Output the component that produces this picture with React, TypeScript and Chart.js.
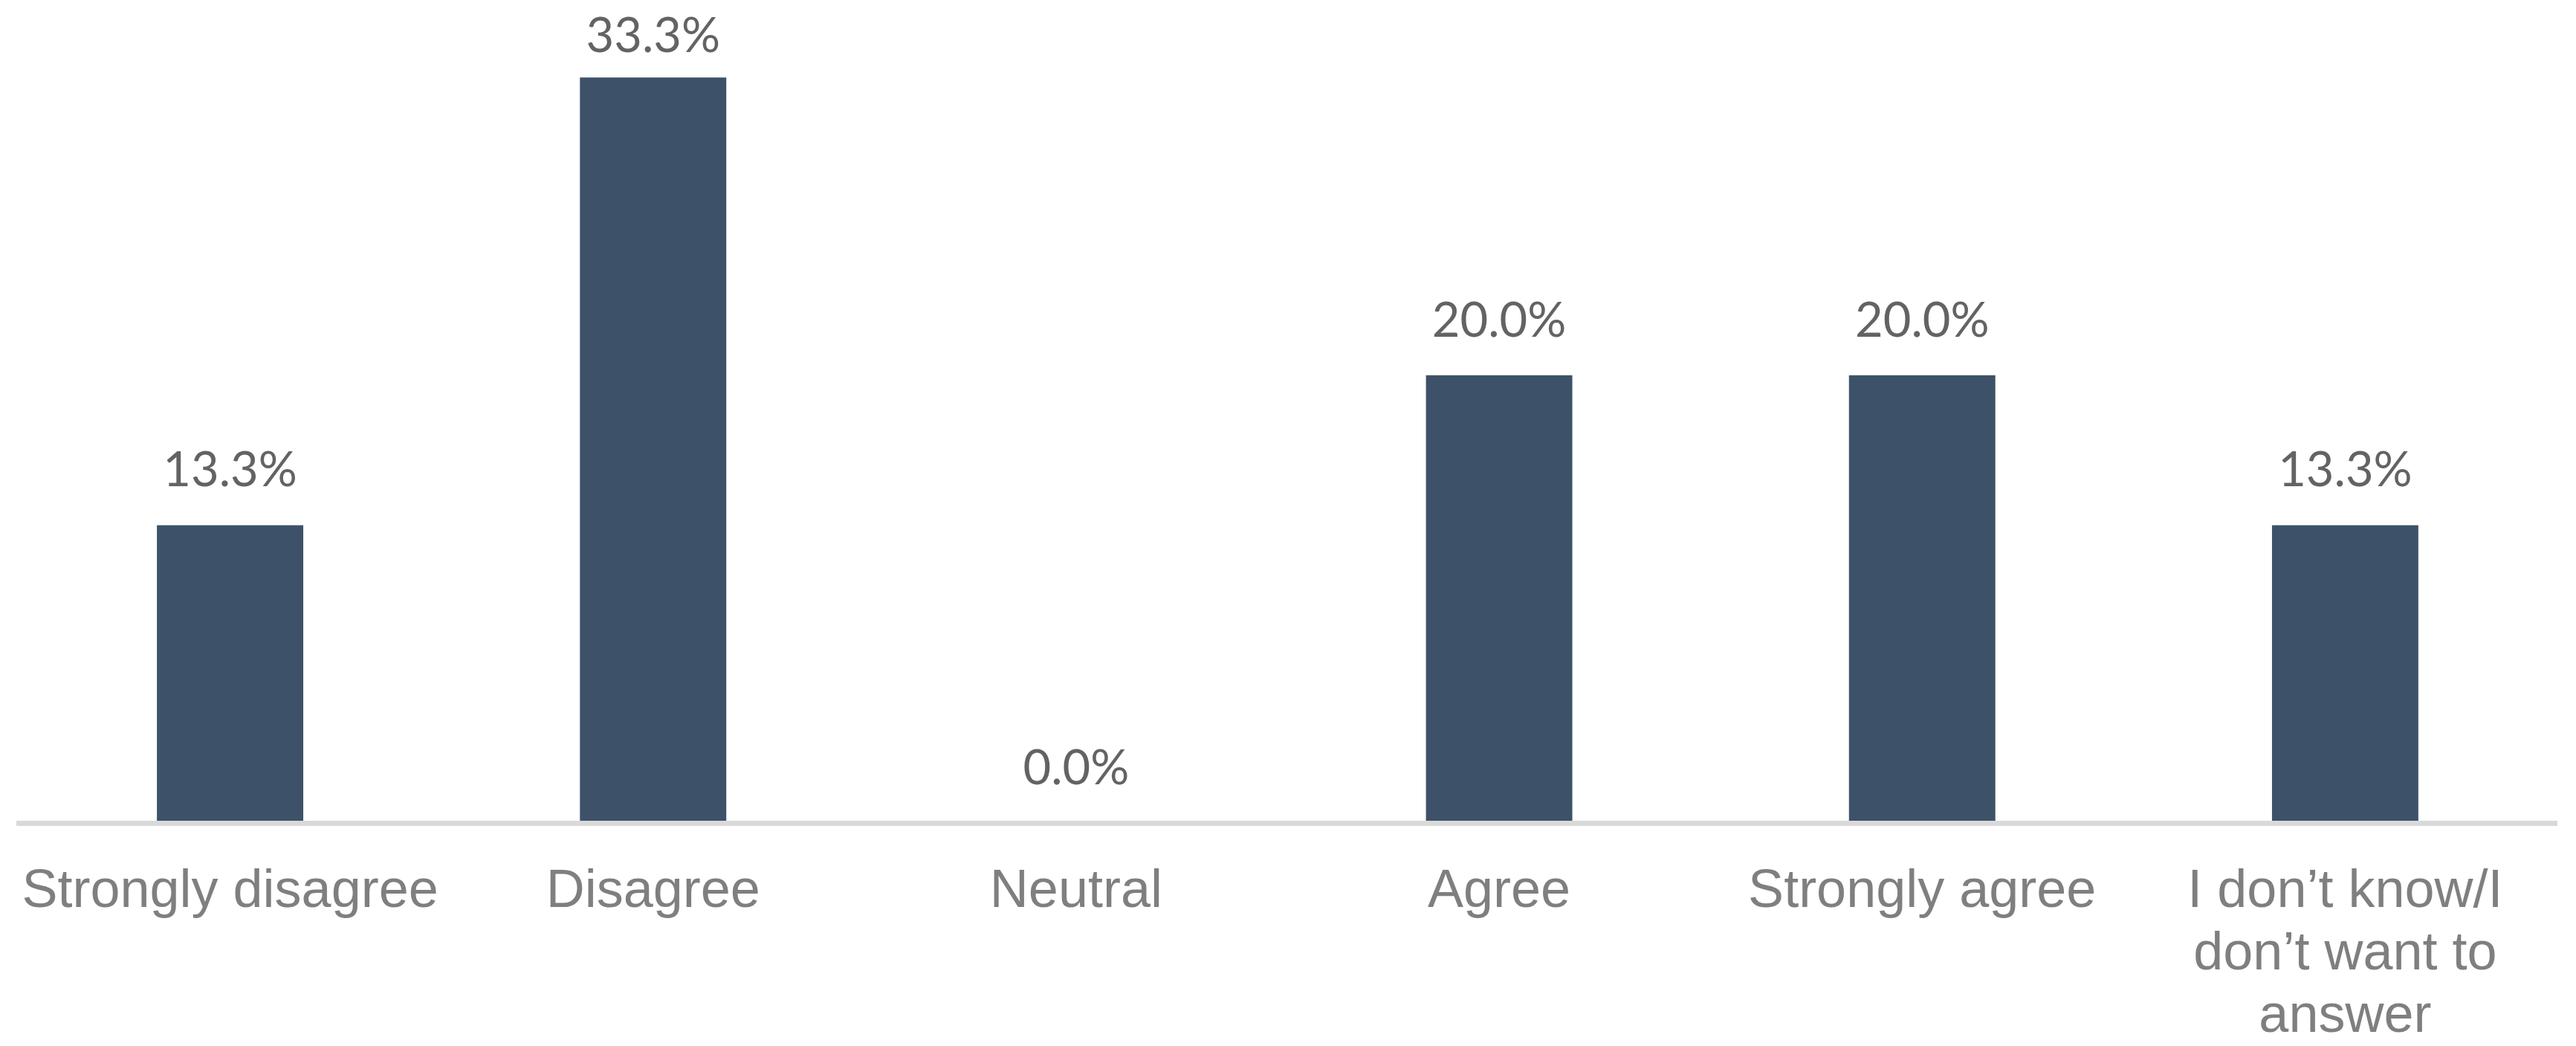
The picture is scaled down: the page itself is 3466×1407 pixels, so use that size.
import React, { useEffect, useRef } from "react";
import { Chart, registerables } from "chart.js";

Chart.register(...registerables);

const categories: (string | string[])[] = [
  "Strongly disagree",
  "Disagree",
  "Neutral",
  "Agree",
  "Strongly agree",
  ["I don\u2019t know/I", "don\u2019t want to", "answer"],
];
const values: number[] = [13.3, 33.3, 0.0, 20.0, 20.0, 13.3];
const yMax = 35;

const BAR_COLOR = "#3D5268";
const VALUE_COLOR = "#636363";
const LABEL_COLOR = "#7F7F7F";
const AXIS_COLOR = "#D9D9D9";

const valueLabelPlugin = {
  id: "valueLabels",
  afterDatasetsDraw(chart: any) {
    const { ctx, chartArea } = chart;
    const meta = chart.getDatasetMeta(0);
    ctx.save();
    ctx.font = "65px Lato";
    ctx.fillStyle = VALUE_COLOR;
    ctx.textAlign = "center";
    ctx.textBaseline = "alphabetic";
    meta.data.forEach((bar: any, i: number) => {
      const v = values[i];
      const base = Math.max(bar.y - 52, chartArea.top + 17);
      ctx.fillText(v.toFixed(1) + "%", bar.x, base);
    });
    ctx.restore();
  },
};

export default function App() {
  const ref = useRef<HTMLCanvasElement | null>(null);
  useEffect(() => {
    if (!ref.current) return;
    const chart = new Chart(ref.current, {
      type: "bar",
      data: {
        labels: categories as any,
        datasets: [
          {
            data: values,
            backgroundColor: BAR_COLOR,
            barPercentage: 0.346,
            categoryPercentage: 1,
          },
        ],
      },
      options: {
        animation: false,
        responsive: true,
        maintainAspectRatio: false,
        layout: { padding: { top: 53, left: 25, right: 26, bottom: 0 } },
        plugins: { legend: { display: false }, tooltip: { enabled: false } },
        scales: {
          x: {
            grid: { display: false, drawTicks: false },
            border: { display: true, color: AXIS_COLOR, width: 7, z: 1 },
            ticks: {
              color: LABEL_COLOR,
              font: { family: "'Liberation Sans', Arial, sans-serif", size: 72, lineHeight: 1.167 },
              padding: 51,
              maxRotation: 0,
              minRotation: 0,
              autoSkip: false,
            },
            afterFit: (s: any) => {
              s.height = 300;
              s.paddingLeft = 0;
              s.paddingRight = 0;
            },
          },
          y: { display: false, min: 0, max: yMax },
        },
      },
      plugins: [valueLabelPlugin],
    });
    return () => chart.destroy();
  }, []);
  return (
    <div style={{ position: "fixed", left: 0, top: 0, width: "3466px", height: "1407px", background: "#fff" }}>
      <canvas ref={ref} />
    </div>
  );
}
